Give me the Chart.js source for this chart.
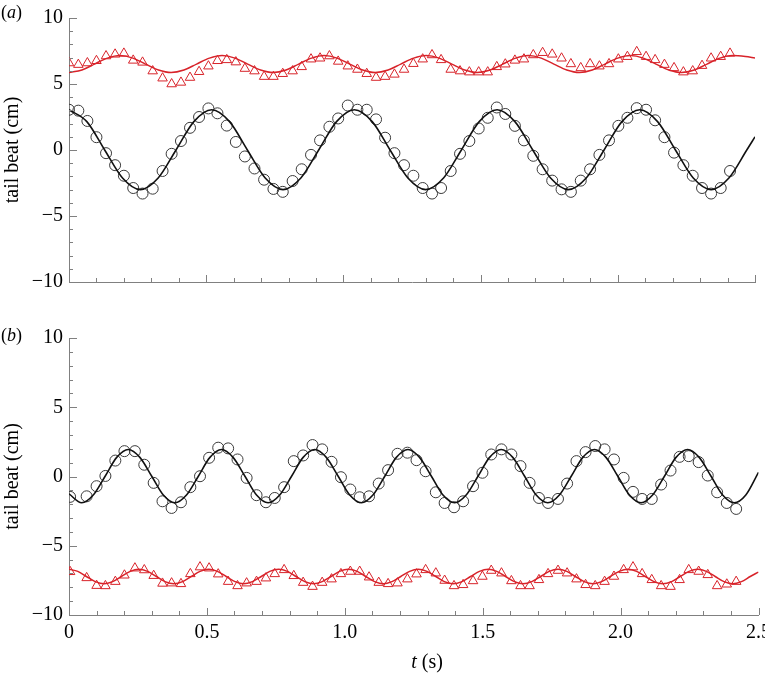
<!DOCTYPE html>
<html>
<head>
<meta charset="utf-8">
<title>Tail beat</title>
<script src="https://cdn.jsdelivr.net/npm/chart.js@4.4.1/dist/chart.umd.min.js"></script>
<style>
  html, body { margin: 0; padding: 0; background: #fff; overflow: hidden; }
  #wrap { position: relative; width: 765px; height: 673px; }
  canvas { position: absolute; left: 0; }
  #chartA { top: 0; }
  #chartB { top: 320px; }
</style>
</head>
<body>
<div id="wrap">
  <canvas id="chartA" width="765" height="300"></canvas>
  <canvas id="chartB" width="765" height="353"></canvas>
</div>
<script>
// ---- panel (a): sampled points (s, cm) ----
const sampleTimesA = [
  0, 0.034, 0.067, 0.1, 0.135, 0.168, 0.2, 0.234, 0.268, 0.305,
  0.341, 0.374, 0.408, 0.441, 0.474, 0.508, 0.541, 0.575, 0.608, 0.641,
  0.676, 0.711, 0.745, 0.779, 0.815, 0.848, 0.882, 0.915, 0.949, 0.981,
  1.016, 1.051, 1.085, 1.119, 1.152, 1.186, 1.221, 1.255, 1.289, 1.323,
  1.356, 1.391, 1.425, 1.459, 1.493, 1.526, 1.559, 1.59, 1.625, 1.658,
  1.692, 1.726, 1.761, 1.795, 1.829, 1.865, 1.899, 1.933, 1.968, 2.002,
  2.035, 2.069, 2.103, 2.136, 2.17, 2.205, 2.239, 2.273, 2.307, 2.34,
  2.375, 2.409
];
const circlesA = [
  3.05, 2.98, 2.2, 0.97, -0.24, -1.15, -1.95, -2.88, -3.3, -2.93,
  -1.59, -0.29, 0.68, 1.68, 2.5, 3.15, 2.78, 1.85, 0.61, -0.49,
  -1.4, -2.25, -2.95, -3.17, -2.35, -1.46, -0.37, 0.73, 1.76, 2.39,
  3.37, 3.05, 3.05, 2.32, 0.93, -0.24, -1.15, -1.95, -2.88, -3.3,
  -2.88, -1.59, -0.29, 0.68, 1.63, 2.44, 3.22, 2.73, 1.83, 0.73,
  -0.44, -1.46, -2.32, -2.98, -3.17, -2.32, -1.46, -0.37, 0.73, 1.83,
  2.44, 3.17, 3.05, 2.25, 0.97, -0.2, -1.15, -1.95, -2.88, -3.3,
  -2.88, -1.59
];
const trianglesA = [
  6.59, 6.47, 6.59, 6.76, 7.12, 7.25, 7.32, 6.79, 6.64, 5.98,
  5.44, 5.0, 5.12, 5.49, 5.93, 6.35, 6.76, 6.83, 6.66, 6.17,
  5.98, 5.56, 5.56, 5.78, 5.98, 6.3, 6.88, 6.95, 7.12, 6.71,
  6.35, 6.1, 5.78, 5.49, 5.56, 5.73, 6.1, 6.54, 6.88, 7.2,
  6.83, 6.1, 5.98, 5.9, 5.9, 5.9, 6.3, 6.5, 6.79, 6.88,
  7.2, 7.37, 7.25, 6.95, 6.52, 6.22, 6.52, 6.35, 6.52, 6.88,
  7.07, 7.44, 7.07, 6.83, 6.47, 6.22, 5.9, 5.98, 6.39, 6.95,
  7.07, 7.32
];

// ---- panel (a): fitted curves ----
const blackFitTimesA = [
  0, 0.065, 0.13, 0.195, 0.26, 0.325, 0.39, 0.455,
  0.52, 0.585, 0.65, 0.715, 0.78, 0.845, 0.91, 0.975,
  1.04, 1.105, 1.17, 1.235, 1.3, 1.365, 1.43, 1.495,
  1.56, 1.625, 1.69, 1.755, 1.82, 1.885, 1.95, 2.015,
  2.08, 2.145, 2.21, 2.275, 2.34, 2.405, 2.47, 2.5
];
const blackFitA = [
  3.05, 2.15, 0, -2.12, -3.0, -2.12, 0, 2.15,
  3.05, 2.15, 0, -2.12, -3.0, -2.12, 0, 2.15,
  3.05, 2.15, 0, -2.12, -3.0, -2.12, 0, 2.15,
  3.05, 2.15, 0, -2.12, -3.0, -2.12, 0, 2.15,
  3.05, 2.15, 0, -2.12, -3.0, -2.12, 0, 1.0
];
const redFitTimesA = [
  0, 0.047, 0.093, 0.14, 0.186, 0.233, 0.279, 0.326,
  0.372, 0.419, 0.465, 0.512, 0.558, 0.605, 0.651, 0.698,
  0.744, 0.791, 0.837, 0.884, 0.93, 0.977, 1.023, 1.07,
  1.116, 1.163, 1.209, 1.256, 1.302, 1.349, 1.395, 1.442,
  1.488, 1.535, 1.581, 1.628, 1.674, 1.721, 1.767, 1.814,
  1.86, 1.907, 1.953, 2.0, 2.046, 2.093, 2.139, 2.186,
  2.232, 2.279, 2.325, 2.372, 2.418, 2.465, 2.5
];
const redFitA = [
  5.87, 6.06, 6.51, 6.96, 7.15, 6.96, 6.51, 6.06,
  5.87, 6.06, 6.51, 6.96, 7.15, 6.96, 6.51, 6.06,
  5.87, 6.06, 6.51, 6.96, 7.15, 6.96, 6.51, 6.06,
  5.87, 6.06, 6.51, 6.96, 7.15, 6.96, 6.51, 6.06,
  5.87, 6.06, 6.51, 6.96, 7.15, 6.96, 6.51, 6.06,
  5.87, 6.06, 6.51, 6.96, 7.15, 6.96, 6.51, 6.06,
  5.87, 6.06, 6.51, 6.96, 7.15, 7.08, 6.97
];

// ---- panel (b): sampled points ----
const sampleTimesB = [
  0.004, 0.064, 0.1, 0.132, 0.168, 0.201, 0.239, 0.273, 0.307, 0.339,
  0.372, 0.406, 0.44, 0.475, 0.508, 0.541, 0.577, 0.611, 0.644, 0.68,
  0.714, 0.746, 0.78, 0.815, 0.849, 0.883, 0.918, 0.952, 0.986, 1.02,
  1.054, 1.088, 1.123, 1.157, 1.191, 1.227, 1.26, 1.293, 1.33, 1.362,
  1.396, 1.429, 1.465, 1.499, 1.531, 1.568, 1.604, 1.637, 1.67, 1.704,
  1.737, 1.773, 1.806, 1.84, 1.873, 1.908, 1.942, 1.976, 2.011, 2.045,
  2.078, 2.113, 2.147, 2.181, 2.214, 2.247, 2.283, 2.316, 2.35, 2.385,
  2.419
];
const circlesB = [
  -1.47, -1.43, -0.7, 0.04, 1.15, 1.83, 1.83, 0.85, -0.46, -1.79,
  -2.27, -1.86, -0.77, 0.02, 1.35, 2.08, 2.03, 1.23, -0.1, -1.35,
  -1.86, -1.55, -0.77, 1.11, 1.52, 2.27, 1.96, 1.06, -0.05, -0.94,
  -1.5, -1.43, -0.51, 0.46, 1.64, 1.72, 1.18, 0.38, -1.14, -1.91,
  -2.22, -1.79, -0.7, 0.27, 1.59, 1.96, 1.59, 0.75, -0.46, -1.55,
  -1.91, -1.62, -0.51, 1.11, 1.76, 2.2, 1.96, 1.23, -0.1, -1.11,
  -1.62, -1.62, -0.58, 0.43, 1.42, 1.47, 1.04, 0.07, -1.14, -1.91,
  -2.34
];
const trianglesB = [
  -6.88, -7.32, -7.88, -7.9, -7.59, -7.13, -6.62, -6.75, -7.16, -7.72,
  -7.7, -7.75, -7.03, -6.54, -6.62, -7.05, -7.59, -7.9, -7.7, -7.59,
  -7.34, -7.03, -6.74, -7.17, -7.66, -7.95, -7.66, -7.41, -7.03, -6.86,
  -6.86, -7.27, -7.66, -7.75, -7.7, -7.41, -7.05, -6.74, -6.98, -7.51,
  -7.9, -7.82, -7.54, -7.22, -6.79, -6.98, -7.54, -7.9, -7.9, -7.46,
  -7.03, -6.79, -6.98, -7.41, -7.82, -7.9, -7.59, -7.22, -6.74, -6.54,
  -7.03, -7.46, -7.9, -7.95, -7.46, -6.74, -6.86, -7.1, -7.9, -7.78,
  -7.59
];

// ---- panel (b): fitted curves ----
const blackFitTimesB = [
  0,
  0.046, 0.088, 0.131, 0.173, 0.215, 0.257, 0.3, 0.342,
  0.384, 0.426, 0.469, 0.511, 0.553, 0.595, 0.638, 0.68,
  0.722, 0.764, 0.807, 0.849, 0.891, 0.933, 0.976, 1.018,
  1.06, 1.102, 1.145, 1.187, 1.229, 1.271, 1.314, 1.356,
  1.398, 1.44, 1.483, 1.525, 1.567, 1.609, 1.652, 1.694,
  1.736, 1.778, 1.821, 1.863, 1.905, 1.947, 1.99, 2.032,
  2.074, 2.116, 2.159, 2.201, 2.243, 2.285, 2.328, 2.37,
  2.412, 2.454, 2.5
];
const blackFitB = [
  -1.25,
  -1.9, -1.34, 0.02, 1.38, 1.95, 1.38, 0.02, -1.34,
  -1.9, -1.34, 0.02, 1.38, 1.95, 1.38, 0.02, -1.34,
  -1.9, -1.34, 0.02, 1.38, 1.95, 1.38, 0.02, -1.34,
  -1.9, -1.34, 0.02, 1.38, 1.95, 1.38, 0.02, -1.34,
  -1.9, -1.34, 0.02, 1.38, 1.95, 1.38, 0.02, -1.34,
  -1.9, -1.34, 0.02, 1.38, 1.95, 1.38, 0.02, -1.34,
  -1.9, -1.34, 0.02, 1.38, 1.95, 1.38, 0.02, -1.34,
  -1.9, -1.34, 0.3
];
const redFitTimesB = [
  0, 0.032, 0.063, 0.095, 0.127, 0.158, 0.19, 0.222,
  0.253, 0.285, 0.317, 0.348, 0.38, 0.412, 0.443, 0.475,
  0.507, 0.538, 0.57, 0.602, 0.633, 0.665, 0.697, 0.728,
  0.76, 0.792, 0.823, 0.855, 0.887, 0.918, 0.95, 0.981,
  1.013, 1.045, 1.076, 1.108, 1.14, 1.171, 1.203, 1.235,
  1.266, 1.298, 1.33, 1.361, 1.393, 1.425, 1.456, 1.488,
  1.52, 1.551, 1.583, 1.615, 1.646, 1.678, 1.71, 1.741,
  1.773, 1.805, 1.836, 1.868, 1.9, 1.931, 1.963, 1.995,
  2.026, 2.058, 2.09, 2.121, 2.153, 2.185, 2.216, 2.248,
  2.28, 2.311, 2.343, 2.375, 2.406, 2.438, 2.47, 2.5
];
const redFitB = [
  -6.7, -6.85, -7.22, -7.59, -7.75, -7.59, -7.22, -6.85,
  -6.7, -6.85, -7.22, -7.59, -7.75, -7.59, -7.22, -6.85,
  -6.7, -6.85, -7.22, -7.59, -7.75, -7.59, -7.22, -6.85,
  -6.7, -6.85, -7.22, -7.59, -7.75, -7.59, -7.22, -6.85,
  -6.7, -6.85, -7.22, -7.59, -7.75, -7.59, -7.22, -6.85,
  -6.7, -6.85, -7.22, -7.59, -7.75, -7.59, -7.22, -6.85,
  -6.7, -6.85, -7.22, -7.59, -7.75, -7.59, -7.22, -6.85,
  -6.7, -6.85, -7.22, -7.59, -7.75, -7.59, -7.22, -6.85,
  -6.7, -6.85, -7.22, -7.59, -7.75, -7.59, -7.22, -6.85,
  -6.7, -6.85, -7.22, -7.59, -7.75, -7.59, -7.22, -6.9
];

const SERIF = '"Liberation Serif", "Times New Roman", Times, serif';
const AXIS_COLOR = '#808080';
const RED = '#d8232a';

// zip two arrays into {x, y} points
function pairs(xs, ys) {
  return xs.map(function (x, i) { return { x: x, y: ys[i] }; });
}

function isHalf(v) {
  return Math.abs(v * 2 - Math.round(v * 2)) < 1e-6;
}

// draw text made of parts, some italic
function drawMixed(ctx, parts, x, y, size, align) {
  let total = 0;
  const widths = parts.map(function (p) {
    ctx.font = (p[1] ? 'italic ' : '') + size + 'px ' + SERIF;
    const w = ctx.measureText(p[0]).width;
    total += w;
    return w;
  });
  let cx = align === 'center' ? x - total / 2 : x;
  ctx.textAlign = 'left';
  ctx.textBaseline = 'alphabetic';
  ctx.fillStyle = '#000';
  parts.forEach(function (p, i) {
    ctx.font = (p[1] ? 'italic ' : '') + size + 'px ' + SERIF;
    ctx.fillText(p[0], cx, y);
    cx += widths[i];
  });
}

// inward tick marks, panel letter and x title
const panelDecor = {
  id: 'panelDecor',
  afterDraw(chart, args, opts) {
    const ctx = chart.ctx;
    const xs = chart.scales.x;
    const ys = chart.scales.y;
    const area = chart.chartArea;
    ctx.save();
    ctx.strokeStyle = AXIS_COLOR;
    ctx.lineWidth = 1;
    ctx.beginPath();
    ys.ticks.forEach(function (t) {
      const y = Math.round(ys.getPixelForValue(t.value)) + 0.5;
      const len = t.value % 5 === 0 ? 8 : 4;
      ctx.moveTo(area.left, y);
      ctx.lineTo(area.left + len, y);
    });
    xs.ticks.forEach(function (t) {
      const x = Math.round(xs.getPixelForValue(t.value)) + 0.5;
      const len = isHalf(t.value) ? 7 : 4;
      ctx.moveTo(x, area.bottom);
      ctx.lineTo(x, area.bottom - len);
    });
    ctx.stroke();

    drawMixed(ctx, [['(', false], [opts.letter, true], [')', false]], 1, opts.letterY, 18, 'left');
    if (opts.xTitle) {
      drawMixed(ctx, [['t', true], [' (s)', false]], opts.xTitleX, opts.xTitleY, 20, 'center');
    }
    ctx.restore();
  }
};

function makeChart(canvasId, datasets, cfg) {
  return new Chart(document.getElementById(canvasId), {
    type: 'scatter',
    data: { datasets: datasets },
    options: {
      responsive: false,
      animation: false,
      devicePixelRatio: 1,
      layout: { padding: { top: cfg.padTop, right: cfg.padRight, left: 0, bottom: 0 } },
      plugins: {
        legend: { display: false },
        tooltip: { enabled: false },
        panelDecor: cfg.decor
      },
      scales: {
        x: {
          type: 'linear',
          min: 0,
          max: 2.5,
          grid: { display: false, drawTicks: false },
          border: { display: true, color: AXIS_COLOR, width: 1 },
          ticks: {
            display: cfg.xLabels,
            stepSize: 0.1,
            autoSkip: false,
            maxRotation: 0,
            minRotation: 0,
            padding: 6,
            color: '#000',
            font: { family: SERIF, size: 20 },
            callback: function (v) {
              if (!isHalf(v)) return '';
              return v === 0 ? '0' : v.toFixed(1);
            }
          },
          afterFit: function (s) {
            s.height = cfg.xHeight;
            s.paddingLeft = 0;
            s.paddingRight = 0;
          }
        },
        y: {
          min: -10,
          max: 10,
          grid: { display: false, drawTicks: false },
          border: { display: true, color: AXIS_COLOR, width: 1 },
          ticks: {
            stepSize: 1,
            autoSkip: false,
            padding: 6,
            color: '#000',
            font: { family: SERIF, size: 20 },
            callback: function (v) {
              if (v % 5 !== 0) return '';
              return v < 0 ? '\u2212' + Math.abs(v) : String(v);
            }
          },
          title: {
            display: true,
            text: 'tail beat (cm)',
            color: '#000',
            font: { family: SERIF, size: 20 },
            padding: { top: 1, bottom: 0 }
          },
          afterFit: function (s) {
            s.width = 69;
          }
        }
      }
    },
    plugins: [panelDecor]
  });
}

function panelDatasets(times, circles, triangles, bfx, bfy, rfx, rfy) {
  return [
    {
      label: 'black fit',
      data: pairs(bfx, bfy),
      showLine: true,
      borderColor: '#111',
      borderWidth: 1.6,
      pointRadius: 0,
      cubicInterpolationMode: 'monotone',
      fill: false
    },
    {
      label: 'red fit',
      data: pairs(rfx, rfy),
      showLine: true,
      borderColor: RED,
      borderWidth: 1.5,
      pointRadius: 0,
      cubicInterpolationMode: 'monotone',
      fill: false
    },
    {
      label: 'circles',
      data: pairs(times, circles),
      pointStyle: 'circle',
      pointRadius: 5.5,
      borderColor: '#3a3a3a',
      borderWidth: 1,
      backgroundColor: 'rgba(0,0,0,0)'
    },
    {
      label: 'triangles',
      data: pairs(times, triangles),
      pointStyle: 'triangle',
      pointRadius: 5.5,
      borderColor: RED,
      borderWidth: 1,
      backgroundColor: 'rgba(0,0,0,0)'
    }
  ];
}

makeChart('chartA',
  panelDatasets(sampleTimesA, circlesA, trianglesA, blackFitTimesA, blackFitA, redFitTimesA, redFitA),
  { padTop: 13, padRight: 10, xHeight: 13, xLabels: false,
    decor: { letter: 'a', letterY: 18 } });

makeChart('chartB',
  panelDatasets(sampleTimesB, circlesB, trianglesB, blackFitTimesB, blackFitB, redFitTimesB, redFitB),
  { padTop: 18, padRight: 5, xHeight: 58, xLabels: true,
    decor: { letter: 'b', letterY: 21, xTitle: true, xTitleX: 427, xTitleY: 348 } });
</script>
</body>
</html>
